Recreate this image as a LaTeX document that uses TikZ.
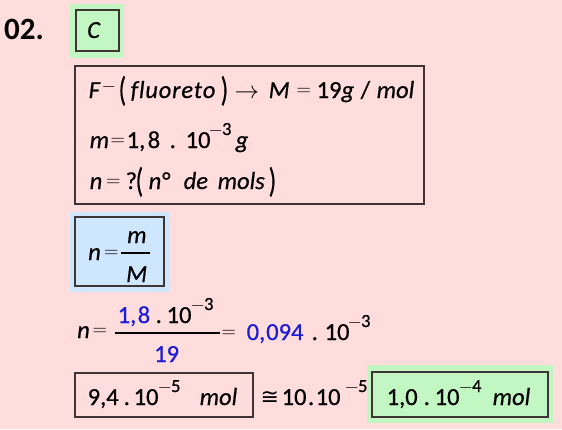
\documentclass[tikz,border=0pt]{standalone}
\usepackage{fix-cm}
\usepackage{graphicx}
\usepackage{fontspec}
\setmainfont{Carlito}[UprightFeatures={FakeBold=0.6},ItalicFeatures={FakeBold=0.6}]
\newfontfamily\symfont{DejaVu Sans}
\definecolor{bgpink}{HTML}{FFDDDD}
\definecolor{hlgreen}{HTML}{C2F6C2}
\definecolor{hlblue}{HTML}{CFE6FF}
\definecolor{txtblue}{HTML}{1C1CD8}
\definecolor{boxline}{HTML}{3F3434}
\newcommand\pc[2]{\makebox[0pt][l]{\hspace*{#1pt}#2}}
\newcommand\ex[2][13]{\raisebox{#1pt}{\fontsize{18.5}{18}\selectfont #2}}
\newcommand\mn{$-$\kern-1pt}
\newcommand\eq{\raisebox{2.2pt}{\fontsize{20}{20}\selectfont$=$}}
\newcommand\tp[1]{\raisebox{-3pt}{\scalebox{1}[1.4]{#1}}}
\newcommand\cm[1][2.5pt]{,\kern#1}
\makeatletter
\def\spw#1#2{\def\spw@k{#1}\spw@loop#2\relax}
\def\spw@loop#1{\ifx\relax#1\else#1\kern\spw@k\expandafter\spw@loop\fi}
\makeatother
\begin{document}
\begin{tikzpicture}[x=1pt,y=-1pt,
  txt/.style={anchor=base west,inner sep=0pt,font=\fontsize{24.5}{28}\selectfont},
  hlbox/.style={draw=boxline,line width=1.4pt},
  mainbox/.style={draw=boxline,line width=1.8pt}]
\useasboundingbox (0,0) rectangle (562,429);
\fill[bgpink] (0,0) rectangle (562,429);
% question number
\node[anchor=base west,inner sep=0pt,font=\fontsize{31}{31}\selectfont\bfseries] (qnum) at (4,39) {02.};
% answer C
\fill[hlgreen] (70,4) rectangle (124,58);
\draw[hlbox,fill=hlgreen] (76,10) rectangle (119,51);
\node[txt] (ans) at (87,38) {\itshape C};
% data box
\draw[mainbox] (75,66) rectangle (424,204);
\node[txt] (l1) at (88,98) {\pc{0}{\itshape F}%
\pc{13}{\ex[6.5]{\mn}}%
\pc{30}{\tp{(}}%
\pc{42}{\itshape\spw{0.8pt}{fluoreto}}%
\pc{132}{\tp{)}}%
\pc{146}{$\rightarrow$}%
\pc{180}{\itshape M}%
\pc{208}{\eq}%
\pc{228}{19\itshape g}%
\pc{272}{/}%
\pc{288}{\itshape mol}};
\node[txt] (l2) at (88,148) {\pc{1}{\itshape m}%
\pc{22}{\eq}%
\pc{38}{1\cm8}%
\pc{81}{.}%
\pc{97}{10}%
\pc{120}{\ex{\mn3}}%
\pc{147}{\itshape g}};
\node[txt] (l3) at (88,189) {\pc{1}{\itshape n}%
\pc{17.5}{\eq}%
\pc{37}{?}%
\pc{47}{\tp{(}}%
\pc{60}{\itshape n°}%
\pc{95}{\itshape de}%
\pc{129}{\itshape mols}%
\pc{180}{\tp{)}}};
% formula box
\fill[hlblue] (70,212) rectangle (170,292);
\draw[hlbox,fill=hlblue] (75,217) rectangle (164,286);
\node[txt] (fn) at (88,260) {\itshape n};
\node[txt] (feq) at (104,260) {\eq};
\draw[line width=1.3pt] (121,253) -- (150,253);
\node[txt] (fm) at (127,243) {\itshape m};
\node[txt] (fM) at (126,282) {\itshape M};
% calculation
\node[txt] (cn) at (77,338) {\itshape n};
\node[txt] (ceq) at (92.5,338) {\eq};
\node[txt] (cnum) at (117,323) {\pc{0}{\color{txtblue}1\cm[1.5pt]8}%
\pc{38}{.}%
\pc{49}{10}%
\pc{73}{\ex{\mn3}}};
\draw[line width=1.3pt] (115,333) -- (220,333);
\node[txt] (cden) at (154,362) {\color{txtblue}19};
\node[txt] (cres) at (221,340) {\pc{0}{\eq}%
\pc{25}{\color{txtblue}0\cm[1pt]094}%
\pc{90}{.}%
\pc{103}{10}%
\pc{126}{\ex{\mn3}}};
% result boxes
\draw[hlbox] (75,373) rectangle (253,417);
\node[txt] (r1) at (87,405) {\pc{0}{9\cm[0pt]4}%
\pc{36}{.}%
\pc{46}{10}%
\pc{70}{\ex{\mn5}}%
\pc{112}{\itshape mol}};
\node[txt] (approx) at (260,405) {\pc{0}{\raisebox{0.5pt}{\fontsize{22}{22}\symfont ≅}}%
\pc{21}{10\kern1.5pt.\kern1.5pt10}%
\pc{84}{\ex{\mn5}}};
\fill[hlgreen] (367,365) rectangle (553,423);
\draw[hlbox,fill=hlgreen] (372,372) rectangle (548,417);
\node[txt] (r2) at (386,405) {\pc{0}{1\cm[0pt]0}%
\pc{37}{.}%
\pc{48}{10}%
\pc{72}{\ex{\mn4}}%
\pc{106}{\itshape mol}};
\end{tikzpicture}
\end{document}
